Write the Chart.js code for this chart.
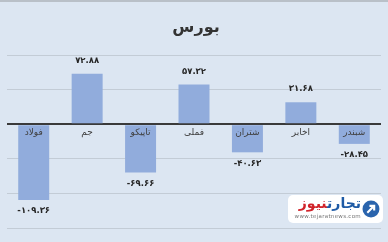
<!DOCTYPE html>
<html>
<head>
<meta charset="utf-8">
<script src="https://cdn.jsdelivr.net/npm/chart.js@4/dist/chart.umd.min.js"></script>
<style>
    html, body { margin: 0; padding: 0; background: #dce6f2; }
    #wrap { position: relative; width: 388px; height: 242px; border-top: 2px solid #b9c0c8; box-sizing: border-box; }
    #logo {
        position: absolute; left: 288px; top: 193px; width: 95px; height: 28px;
        background: #fff; border-radius: 5px; font-family: "DejaVu Sans", sans-serif;
    }
    #logo .name { position: absolute; right: 22px; top: 0px; font-size: 14px; font-weight: bold; direction: rtl; white-space: nowrap; }
    #logo .url { position: absolute; right: 22px; top: 18px; font-size: 5.5px; color: #777; letter-spacing: 0.3px; }
    #logo svg { position: absolute; right: 3px; top: 5px; }
</style>
</head>
<body>
<div id="wrap">
    <canvas id="chart" width="388" height="240"></canvas>
    <div id="logo">
        <span class="name"><span style="color:#1f5ba6">تجارت</span><span style="color:#d1232a">نیوز</span></span>
        <span class="url">www.tejaratnews.com</span>
        <svg width="18" height="18" viewBox="0 0 17 17">
            <circle cx="8.5" cy="8.5" r="8" fill="#2a64ad"/>
            <path d="M5 12 L11 6 M7 5.5 L11.5 5.5 L11.5 10" stroke="#fff" stroke-width="2" fill="none"/>
        </svg>
    </div>
</div>
<script>
let chart_title = 'بورس';
let categories = ['فولاد', 'جم', 'تاپیکو', 'فملی', 'شتران', 'اخابر', 'شبندر'];
let values = [-109.36, 72.88, -69.66, 57.32, -40.63, 31.68, -28.45];
let y_min = -150;
let y_max = 100;
let y_step = 50;

function to_persian(n) {
    let digits = '۰۱۲۳۴۵۶۷۸۹';
    return n.toFixed(2).replace(/[0-9]/g, (d) => digits[parseInt(d)]);
}

const label_plugin = {
    id: 'labels',
    beforeDraw(chart) {
        let ctx = chart.ctx;
        ctx.save();
        ctx.fillStyle = '#dce6f2';
        ctx.fillRect(0, 0, chart.width, chart.height);
        ctx.restore();
    },
    afterDraw(chart) {
        let ctx = chart.ctx;
        let x_scale = chart.scales.x;
        let y_scale = chart.scales.y;
        let zero = y_scale.getPixelForValue(0);
        ctx.save();
        ctx.textAlign = 'center';
        ctx.textBaseline = 'middle';

        ctx.fillStyle = '#333';
        ctx.font = 'bold 16px "DejaVu Sans"';
        ctx.fillText(chart_title, 196, 26);

        ctx.font = '9px "DejaVu Sans"';
        ctx.fillStyle = '#404040';
        categories.forEach((c, i) => {
            ctx.fillText(c, x_scale.getPixelForValue(i), zero + 8);
        });

        ctx.font = 'bold 8.5px "DejaVu Sans"';
        ctx.fillStyle = '#262626';
        chart.getDatasetMeta(0).data.forEach((bar, i) => {
            let y = values[i] >= 0 ? bar.y - 13 : bar.y + 11;
            ctx.fillText(to_persian(values[i]), bar.x, y);
        });
        ctx.restore();
    }
};

document.addEventListener('DOMContentLoaded', () => {
    let ctx = document.getElementById('chart');
    new Chart(ctx, {
        type: 'bar',
        data: {
            labels: categories,
            datasets: [{
                data: values,
                backgroundColor: '#91acdc',
                barPercentage: 0.58,
                categoryPercentage: 1,
            }]
        },
        options: {
            responsive: false,
            animation: false,
            layout: { padding: { left: 7, right: 7, top: 53, bottom: 14 } },
            plugins: { legend: { display: false }, tooltip: { enabled: false } },
            scales: {
                x: {
                    display: false,
                },
                y: {
                    min: y_min,
                    max: y_max,
                    ticks: { display: false, stepSize: y_step },
                    border: { display: false },
                    grid: {
                        color: (c) => c.tick.value === 0 ? '#3a3a3a' : '#c3ccd6',
                        lineWidth: (c) => c.tick.value === 0 ? 2 : 1,
                        drawTicks: false,
                    },
                }
            }
        },
        plugins: [label_plugin]
    });
});
</script>
</body>
</html>
